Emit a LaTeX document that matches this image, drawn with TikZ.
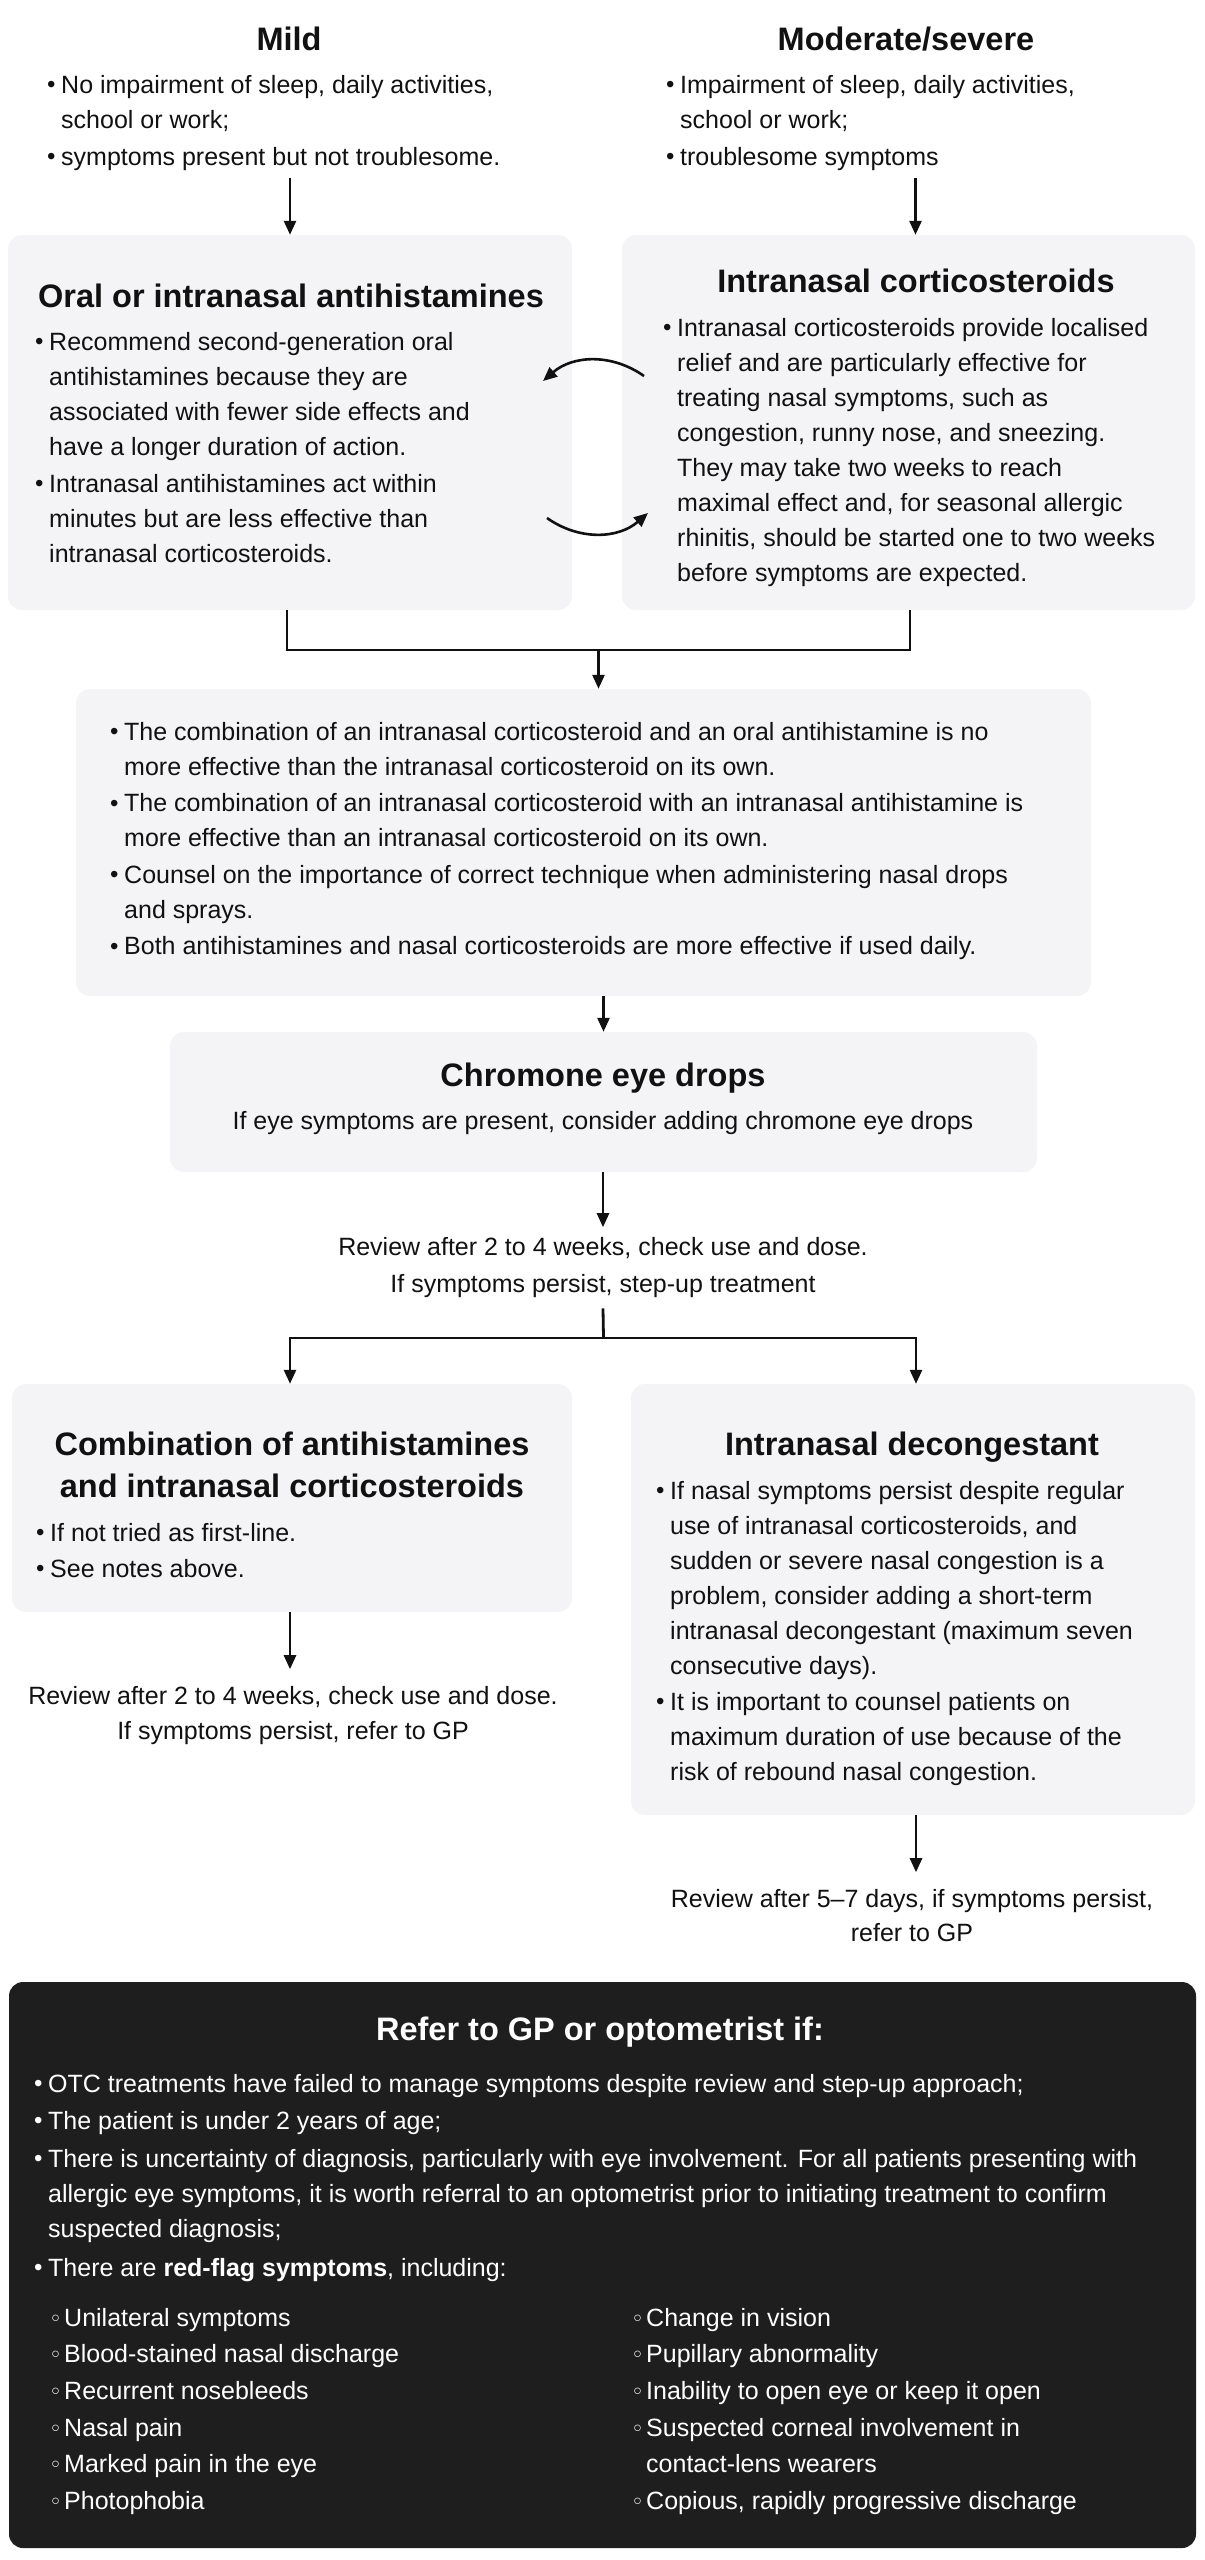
\documentclass[tikz,border=0pt]{standalone}
\usepackage{fontspec}
\setmainfont{Liberation Sans}
\newfontfamily\dejavu{DejaVu Sans}
\usetikzlibrary{arrows.meta}
\definecolor{boxfill}{HTML}{F4F4F6}
\definecolor{darkfill}{HTML}{1E1E1E}
\definecolor{ink}{HTML}{111111}
\newcommand{\bu}{\makebox[14pt][l]{\raisebox{0.5pt}{\fontsize{24}{24}\selectfont •}}}
\newcommand{\ci}{\makebox[15pt][l]{{\dejavu\fontsize{22}{22}\selectfont ◦}}}
\newenvironment{blist}{\begin{tabular}[t]{@{}l@{}l@{}}}{\end{tabular}}
\newenvironment{clines}{\begin{tabular}[t]{@{}c@{}}}{\end{tabular}}
\begin{document}
\begin{tikzpicture}[x=1pt,y=1pt,
  box/.style={fill=boxfill, draw=none, rounded corners=14pt, inner sep=0},
  darkbox/.style={fill=darkfill, draw=none, rounded corners=14pt, inner sep=0},
  title/.style={font=\fontsize{32.5}{42}\selectfont\bfseries, text=ink, inner sep=0, anchor=base},
  body/.style={font=\fontsize{25}{35}\selectfont, text=ink, inner sep=0, anchor=base west},
  ctext/.style={font=\fontsize{25}{36}\selectfont, text=ink, inner sep=0, anchor=base},
  arr/.style={line width=2.6pt, draw=ink, -{Triangle[length=14pt,width=12pt]}},
  conn/.style={line width=2.8pt, draw=ink},
]
\useasboundingbox (0,0) rectangle (1205,-2560);
\fill[white] (0,0) rectangle (1205,-2560);

% ---------- top ----------
\node[title] (mildT) at (289,-50) {Mild};
\node[title] (modT) at (906,-50) {Moderate/severe};
\node[body] (mildL) at (47,-93) {\begin{blist}
\bu & No impairment of sleep, daily activities,\\
 & school or work;\\[2pt]
\bu & symptoms present but not troublesome.
\end{blist}};
\node[body] (modL) at (666,-93) {\begin{blist}
\bu & Impairment of sleep, daily activities,\\
 & school or work;\\[2pt]
\bu & troublesome symptoms
\end{blist}};

% ---------- first boxes ----------
\node[box, minimum width=564, minimum height=375] (abox) at (290,-422.5) {};
\node[box, minimum width=573, minimum height=375] (cbox) at (908.5,-422.5) {};

\node[title] (aT) at (291,-307) {Oral or intranasal antihistamines};
\node[body] (aL) at (35,-350) {\begin{blist}
\bu & Recommend second-generation oral\\
 & antihistamines because they are\\
 & associated with fewer side effects and\\
 & have a longer duration of action.\\[2pt]
\bu & Intranasal antihistamines act within\\
 & minutes but are less effective than\\
 & intranasal corticosteroids.
\end{blist}};

\node[title] (cT) at (916,-292) {Intranasal corticosteroids};
\node[body] (cL) at (663,-336) {\begin{blist}
\bu & Intranasal corticosteroids provide localised\\
 & relief and are particularly effective for\\
 & treating nasal symptoms, such as\\
 & congestion, runny nose, and sneezing.\\
 & They may take two weeks to reach\\
 & maximal effect and, for seasonal allergic\\
 & rhinitis, should be started one to two weeks\\
 & before symptoms are expected.
\end{blist}};

\draw[arr] (mildL.south -| abox.north) ++(0,-2) -- (abox.north);
\draw[arr] ([xshift=7pt]modL.south -| cbox.north) ++(0,-2) -- ([xshift=7pt]cbox.north);

% swap arrows
\coordinate (s1) at (644,-376);
\coordinate (s2) at (543,-381);
\coordinate (s3) at (547,-518);
\coordinate (s4) at (648,-513);
\draw[arr] (s1) to[bend right=38] (s2);
\draw[arr] (s3) to[bend right=38] (s4);

% ---------- bracket to middle box ----------
\node[box, minimum width=1015, minimum height=307] (mbox) at (583.5,-842.5) {};
\coordinate (j1) at (598.5,-650);
\draw[conn] ([xshift=-3pt]abox.south) |- (j1) -| ([xshift=1.5pt]cbox.south);
\draw[arr] (j1) -- (j1 |- mbox.north);

\node[body] (mL) at (110,-740) {\begin{blist}
\bu & The combination of an intranasal corticosteroid and an oral antihistamine is no\\
 & more effective than the intranasal corticosteroid on its own.\\[1.5pt]
\bu & The combination of an intranasal corticosteroid with an intranasal antihistamine is\\
 & more effective than an intranasal corticosteroid on its own.\\[1.5pt]
\bu & Counsel on the importance of correct technique when administering nasal drops\\
 & and sprays.\\[1.5pt]
\bu & Both antihistamines and nasal corticosteroids are more effective if used daily.
\end{blist}};

% ---------- chromone ----------
\node[box, minimum width=867, minimum height=140] (chbox) at (603.5,-1102) {};
\draw[arr] (mbox.south -| chbox.north) -- (chbox.north);
\node[title] (chT) at (603,-1086) {Chromone eye drops};
\node[ctext] (chL) at (603,-1129) {If eye symptoms are present, consider adding chromone eye drops};

\node[ctext, font=\fontsize{25}{37}\selectfont] (rev1) at (603,-1255) {\begin{clines}
Review after 2 to 4 weeks, check use and dose.\\
If symptoms persist, step-up treatment
\end{clines}};
\draw[arr] (chbox.south -| rev1.north) -- ++(0,-55);

% ---------- second row ----------
\node[box, minimum width=560, minimum height=228] (combox) at (292,-1498) {};
\node[box, minimum width=564, minimum height=431] (decbox) at (913,-1599.5) {};
\coordinate (j2) at (603.5,-1338);
\draw[conn] ([yshift=-5pt]rev1.south) -- (j2);
\draw[arr] (j2) -| ([xshift=-2pt]combox.north);
\draw[arr] (j2) -| ([xshift=3pt]decbox.north);

\node[title, font=\fontsize{32.5}{42}\selectfont\bfseries] (comT) at (292,-1455) {\begin{clines}
Combination of antihistamines\\
and intranasal corticosteroids
\end{clines}};
\node[body, font=\fontsize{25}{36}\selectfont] (comL) at (36,-1541) {\begin{blist}
\bu & If not tried as first-line.\\
\bu & See notes above.
\end{blist}};

\node[title] (decT) at (912,-1455) {Intranasal decongestant};
\node[body] (decL) at (656,-1499) {\begin{blist}
\bu & If nasal symptoms persist despite regular\\
 & use of intranasal corticosteroids, and\\
 & sudden or severe nasal congestion is a\\
 & problem, consider adding a short-term\\
 & intranasal decongestant (maximum seven\\
 & consecutive days).\\[1pt]
\bu & It is important to counsel patients on\\
 & maximum duration of use because of the\\
 & risk of rebound nasal congestion.
\end{blist}};

\node[ctext, font=\fontsize{25}{35}\selectfont] (rev2) at (293,-1704) {\begin{clines}
Review after 2 to 4 weeks, check use and dose.\\
If symptoms persist, refer to GP
\end{clines}};
\node[ctext, font=\fontsize{25}{34}\selectfont] (rev3) at (912,-1907) {\begin{clines}
Review after 5–7 days, if symptoms persist,\\
refer to GP
\end{clines}};
\draw[arr] ([xshift=-2pt]combox.south) -- ++(0,-57);
\draw[arr] ([xshift=3pt]decbox.south) -- ++(0,-57);

% ---------- referral box ----------
\node[darkbox, minimum width=1187, minimum height=566] (refbox) at (602.5,-2265) {};
\node[title, text=white] (refT) at (600,-2040) {Refer to GP or optometrist if:};
\node[body, text=white] (refL) at (34,-2092) {\begin{blist}
\bu & OTC treatments have failed to manage symptoms despite review and step-up approach;\\[2pt]
\bu & The patient is under 2 years of age;\\[3pt]
\bu & There is uncertainty of diagnosis, particularly with eye involvement. For all patients presenting with\\
 & allergic eye symptoms, it is worth referral to an optometrist prior to initiating treatment to confirm\\
 & suspected diagnosis;\\[4pt]
\bu & There are \textbf{red-flag symptoms}, including:
\end{blist}};
\node[body, text=white, font=\fontsize{25}{36.7}\selectfont] (subL) at (49,-2326) {\begin{blist}
\ci & Unilateral symptoms\\
\ci & Blood-stained nasal discharge\\
\ci & Recurrent nosebleeds\\
\ci & Nasal pain\\
\ci & Marked pain in the eye\\
\ci & Photophobia
\end{blist}};
\node[body, text=white, font=\fontsize{25}{36.7}\selectfont] (subR) at (631,-2326) {\begin{blist}
\ci & Change in vision\\
\ci & Pupillary abnormality\\
\ci & Inability to open eye or keep it open\\
\ci & Suspected corneal involvement in\\
 & contact-lens wearers\\
\ci & Copious, rapidly progressive discharge
\end{blist}};
\end{tikzpicture}
\end{document}
